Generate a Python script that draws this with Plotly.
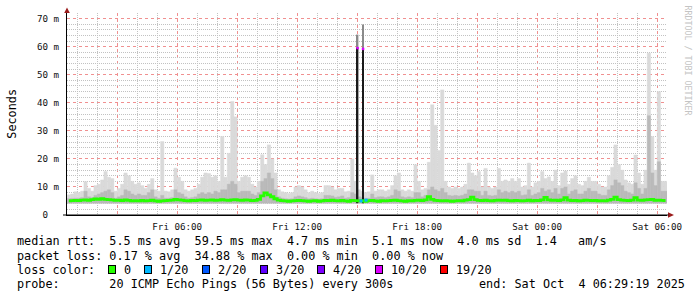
import plotly.graph_objects as go
import pandas as pd

# ---------------- data (values in ms) ----------------
SERIES_START = "2025-10-03 00:35:00"   # centre of the first 10-minute interval
STEP_MINUTES = 10
RANGE_START = "2025-10-03 00:29:19"
RANGE_END = "2025-10-04 06:29:19"

# top of the light smoke (max ping) per 10-minute interval
smoke_max = [
    7.2, 7.5, 8.3, 8.0, 8.5, 11.9, 9.5, 8.5, 10.5, 11.0,
    12.5, 15.5, 13.5, 13.0, 8.5, 9.5, 11.0, 15.0, 14.0, 12.0,
    11.0, 11.5, 10.5, 9.5, 11.0, 13.0, 9.0, 8.5, 26.2, 8.5,
    8.3, 9.0, 16.7, 13.5, 12.0, 9.0, 8.5, 9.0, 9.5, 11.0,
    13.5, 15.0, 14.8, 13.5, 14.0, 12.0, 28.0, 13.5, 22.0, 40.5,
    35.0, 12.0, 13.5, 14.0, 13.5, 11.0, 10.0, 12.0, 21.5, 18.0,
    25.0, 20.0, 15.0, 9.0, 8.3, 8.0, 7.7, 8.0, 10.0, 10.5,
    10.0, 9.0, 8.0, 8.5, 8.0, 7.7, 8.0, 10.5, 10.5, 10.0,
    9.0, 9.5, 9.5, 8.3, 8.5, 20.0, 12.0, 9.0, 8.5, 8.0,
    8.3, 14.3, 8.5, 9.0, 9.0, 8.5, 9.0, 10.5, 14.0, 15.0,
    9.0, 8.5, 9.0, 8.5, 17.9, 12.0, 9.0, 9.5, 18.8, 39.3,
    32.0, 23.0, 44.6, 12.0, 10.0, 9.5, 10.0, 9.5, 10.0, 11.0,
    18.5, 15.0, 14.0, 15.5, 10.0, 16.6, 10.0, 9.5, 10.0, 16.6,
    12.0, 12.5, 12.0, 13.0, 12.0, 13.0, 10.0, 10.5, 18.5, 10.0,
    11.5, 12.0, 15.5, 13.0, 13.6, 12.0, 16.0, 10.5, 15.0, 15.7,
    11.0, 13.0, 14.0, 11.0, 10.5, 12.0, 13.5, 12.0, 12.0, 11.0,
    10.0, 10.0, 14.0, 17.0, 25.0, 18.0, 16.0, 12.5, 11.5, 11.0,
    21.4, 15.0, 11.0, 16.0, 57.7, 28.0, 16.0, 44.0, 12.0, 12.0,
]

# top of the denser (medium grey) smoke
smoke_mid = [
    5.8, 5.9, 6.0, 6.0, 6.2, 8.5, 6.5, 6.2, 7.0, 7.5,
    8.0, 8.5, 9.0, 8.0, 6.0, 6.5, 7.0, 9.0, 8.5, 7.5,
    7.0, 7.5, 7.0, 7.0, 8.0, 9.0, 6.5, 6.0, 7.0, 6.0,
    6.0, 6.2, 9.0, 8.0, 7.5, 6.5, 6.0, 6.2, 6.5, 7.5,
    8.0, 7.5, 8.0, 7.5, 8.5, 8.0, 9.0, 9.0, 11.0, 12.0,
    11.0, 8.0, 8.5, 8.5, 8.5, 7.5, 7.0, 8.0, 12.0, 13.0,
    15.0, 13.0, 9.0, 6.5, 6.0, 5.8, 5.7, 5.8, 6.5, 6.8,
    6.5, 6.2, 5.8, 6.0, 5.8, 5.7, 5.8, 7.0, 7.0, 6.8,
    6.3, 6.5, 6.8, 6.0, 6.2, 8.0, 7.5, 6.5, 6.2, 6.0,
    6.0, 7.5, 6.2, 6.5, 6.5, 6.2, 6.5, 7.0, 9.0, 8.5,
    6.5, 6.2, 6.5, 6.2, 8.0, 8.0, 6.5, 7.0, 9.0, 10.0,
    9.0, 8.5, 9.5, 8.0, 7.0, 6.8, 7.0, 6.8, 7.0, 7.5,
    9.0, 9.0, 8.5, 8.5, 7.0, 8.5, 7.0, 6.8, 7.0, 9.0,
    8.0, 8.5, 8.0, 8.5, 8.0, 8.5, 7.0, 7.2, 9.0, 7.0,
    7.5, 8.0, 9.5, 8.5, 9.0, 8.0, 9.5, 7.5, 9.5, 10.0,
    7.5, 8.5, 9.0, 7.5, 7.5, 8.5, 9.5, 8.5, 8.5, 7.5,
    7.0, 7.0, 9.0, 10.5, 12.5, 11.5, 10.5, 8.5, 8.0, 7.5,
    11.5, 9.5, 7.5, 9.5, 35.4, 15.0, 10.5, 19.0, 8.5, 8.5,
]

# median round-trip time
median_rtt = [
    5.0, 5.1, 5.2, 5.1, 5.3, 5.4, 5.2, 5.5, 5.7, 5.6,
    5.8, 5.6, 5.5, 5.4, 5.2, 5.3, 5.1, 5.4, 5.2, 5.0,
    5.1, 5.0, 5.2, 5.0, 5.1, 5.3, 5.0, 4.9, 5.0, 5.1,
    5.2, 5.3, 5.6, 5.4, 5.3, 5.1, 5.0, 5.2, 5.1, 5.3,
    5.4, 5.2, 5.3, 5.4, 5.2, 5.3, 5.5, 5.3, 5.2, 5.4,
    5.5, 5.3, 5.2, 5.4, 5.3, 5.1, 5.2, 5.6, 6.8, 7.9,
    7.2, 6.5, 5.8, 5.3, 5.1, 5.0, 4.9, 5.0, 5.1, 5.2,
    5.1, 5.0, 4.9, 5.0, 5.1, 4.9, 5.0, 5.2, 5.1, 5.3,
    5.1, 5.0, 5.2, 5.0, 4.9, 5.2, 5.1, 5.0, 5.1, 4.9,
    5.1, 5.2, 5.0, 4.9, 5.1, 5.0, 5.1, 5.2, 5.3, 5.1,
    5.0, 4.9, 5.1, 5.0, 5.2, 5.3, 5.1, 5.4, 6.5, 5.6,
    5.2, 5.1, 5.0, 5.1, 5.0, 4.9, 5.0, 5.1, 5.0, 5.3,
    5.5, 6.4, 5.5, 5.2, 5.1, 5.3, 5.1, 5.0, 5.2, 5.3,
    5.2, 5.3, 5.1, 5.0, 5.2, 5.1, 5.0, 5.1, 5.3, 5.0,
    5.2, 5.1, 5.4, 6.3, 5.4, 5.2, 5.3, 5.1, 5.4, 6.2,
    5.3, 5.1, 5.2, 5.0, 5.1, 5.3, 5.2, 5.1, 5.2, 5.0,
    5.1, 5.0, 5.3, 5.6, 6.4, 5.5, 5.3, 5.2, 5.1, 5.3,
    6.2, 5.3, 5.2, 5.4, 5.5, 5.6, 5.2, 5.3, 5.2, 5.1,
]
SMOKE_FLOOR = 4.2

# two 5-minute samples with heavy loss around 15:00
spike_times = ["2025-10-03 15:01:00", "2025-10-03 15:17:30"]
spike_median = [59.5, 59.2]
spike_max = [64.3, 67.9]
spike_loss = ["10/20", "10/20"]

# samples with light loss
loss_times = ["2025-10-03 15:11:30", "2025-10-03 15:26:30"]
loss_median = [5.0, 5.3]
loss_level = ["1/20", "1/20"]

loss_labels = ["0", "1/20", "2/20", "3/20", "4/20", "10/20", "19/20"]
loss_colors = ["#26ff00", "#00b8ff", "#0059ff", "#5e00ff", "#7e00ff", "#dd00ff", "#ff0000"]

x_tick_vals = ["2025-10-03 03:00", "2025-10-03 06:00", "2025-10-03 09:00", "2025-10-03 12:00",
               "2025-10-03 15:00", "2025-10-03 18:00", "2025-10-03 21:00", "2025-10-04 00:00",
               "2025-10-04 03:00", "2025-10-04 06:00"]
x_tick_text = ["", "Fri 06:00", "", "Fri 12:00", "", "Fri 18:00", "", "Sat 00:00", "", "Sat 06:00"]
y_tick_vals = [0, 10, 20, 30, 40, 50, 60, 70]
y_tick_text = ["0\u00a0\u00a0", "10 m", "20 m", "30 m", "40 m", "50 m", "60 m", "70 m"]

TXT_RTT = "median rtt:  5.5 ms avg  59.5 ms max  4.7 ms min  5.1 ms now  4.0 ms sd  1.4   am/s"
TXT_LOSS = "packet loss: 0.17 % avg  34.88 % max  0.00 % min  0.00 % now"
TXT_COLOR = "loss color:"
TXT_PROBE = "probe:       20 ICMP Echo Pings (56 Bytes) every 300s"
TXT_END = "end: Sat Oct  4 06:29:19 2025"
TXT_MARK = "RRDTOOL / TOBI OETIKER"
Y_TITLE = "Seconds"

# ---------------- figure ----------------
loss_map = dict(zip(loss_labels, loss_colors))
times = pd.date_range(SERIES_START, periods=len(median_rtt), freq=f"{STEP_MINUTES}min")
step_ms = STEP_MINUTES * 60 * 1000

# minor grid positions (hourly / every 2 ms, skipping the major ones)
minor_x = [t for t in pd.date_range("2025-10-03 01:00", "2025-10-04 06:00", freq="1h") if t.hour % 3 != 0]
minor_y = [v for v in range(2, 72, 2) if v % 10 != 0]

W, H, L, T = 697, 297, 67, 13
PW, PH = 600, 202
MONO = "DejaVu Sans Mono"
Y_RANGE = [0, 72]


def px(x):
    return (x - L) / PW


def py(y):
    return (T + PH - y) / PH


fig = go.Figure()
# empty trace that puts the minor-grid overlay axes on the page
fig.add_trace(go.Scatter(x=[], y=[], xaxis="x2", yaxis="y2", hoverinfo="skip"))
fig.add_trace(go.Bar(x=times, y=[v - SMOKE_FLOOR for v in smoke_max], base=SMOKE_FLOOR,
                     width=step_ms, marker=dict(color="#dadada", line=dict(width=0.4, color="#dadada")),
                     hoverinfo="skip"))
fig.add_trace(go.Bar(x=times, y=[v - SMOKE_FLOOR for v in smoke_mid], base=SMOKE_FLOOR,
                     width=step_ms, marker=dict(color="#bababa", line=dict(width=0.4, color="#bababa")),
                     hoverinfo="skip"))
fig.add_trace(go.Bar(x=pd.to_datetime(spike_times), y=[m - s for m, s in zip(spike_max, spike_median)],
                     base=spike_median, width=5 * 60 * 1000, marker=dict(color="#8a8a8a", line=dict(width=0)),
                     hoverinfo="skip"))
fig.add_trace(go.Bar(x=pd.to_datetime(spike_times), y=[m - SMOKE_FLOOR for m in spike_median],
                     base=SMOKE_FLOOR, width=5 * 60 * 1000, marker=dict(color="#1a1a1a", line=dict(width=0)),
                     hoverinfo="skip"))
fig.add_trace(go.Scatter(x=times, y=median_rtt, mode="lines", line=dict(color=loss_map["0"], width=2.8, shape="hvh"),
                         hoverinfo="skip"))
fig.add_trace(go.Scatter(x=pd.to_datetime(spike_times), y=spike_median, mode="markers",
                         marker=dict(symbol="square", size=2.5, color=[loss_map[k] for k in spike_loss], line=dict(width=0)),
                         hoverinfo="skip"))
fig.add_trace(go.Scatter(x=pd.to_datetime(loss_times), y=loss_median, mode="markers",
                         marker=dict(symbol="square", size=3, color=[loss_map[k] for k in loss_level], line=dict(width=0)),
                         hoverinfo="skip"))

MAJOR = "#f09090"
MINOR = "#c2c2c2"
DOTS = "1px,1px"
TICKFONT = dict(family=MONO, size=9.2, color="#111")

fig.update_layout(
    width=W, height=H, margin=dict(l=L, r=W - L - PW, t=T, b=H - T - PH, pad=0),
    paper_bgcolor="white", plot_bgcolor="white", showlegend=False, barmode="overlay",
    font=dict(family=MONO, color="#000000", size=9.2),
    xaxis=dict(type="date", range=[RANGE_START, RANGE_END], tickmode="array",
               tickvals=x_tick_vals, ticktext=x_tick_text, ticks="",
               showgrid=True, gridcolor=MAJOR, griddash="dot", gridwidth=1,
               showline=True, linecolor="black", linewidth=1, zeroline=False,
               tickfont=TICKFONT, ticklabelstandoff=3, fixedrange=True),
    yaxis=dict(range=Y_RANGE, tickmode="array", tickvals=y_tick_vals, ticktext=y_tick_text, ticks="",
               showgrid=True, gridcolor=MAJOR, griddash="dot", gridwidth=1,
               showline=True, linecolor="black", linewidth=1, zeroline=False,
               tickfont=TICKFONT, ticklabelstandoff=5, fixedrange=True),
    xaxis2=dict(type="date", range=[RANGE_START, RANGE_END], overlaying="x", anchor="y2",
                tickmode="array", tickvals=minor_x, showticklabels=False, ticks="",
                showgrid=True, gridcolor=MINOR, griddash=DOTS, gridwidth=1,
                showline=False, zeroline=False, fixedrange=True),
    yaxis2=dict(range=Y_RANGE, overlaying="y", anchor="x2", tickmode="array", tickvals=minor_y,
                showticklabels=False, ticks="", showgrid=True, gridcolor=MINOR, griddash=DOTS,
                gridwidth=1, showline=False, zeroline=False, fixedrange=True),
)

ann = []
LEG_X = 16.4
CH = 7.1
LEG_FONT = dict(family=MONO, size=11.8, color="#000")


def text_ann(s, x, y, **kw):
    d = dict(text=s.replace(" ", "\u00a0"), x=px(x), y=py(y), xref="paper", yref="paper",
             xanchor="left", yanchor="middle", showarrow=False, font=LEG_FONT, borderpad=0)
    d.update(kw)
    return d


ann.append(text_ann(TXT_RTT, LEG_X, 241.5))
ann.append(text_ann(TXT_LOSS, LEG_X, 255.5))
ann.append(text_ann(TXT_COLOR, LEG_X, 269.5))
ann.append(text_ann(TXT_PROBE, LEG_X, 283.5))
ann.append(text_ann(TXT_END, LEG_X + 65 * CH, 283.5))

lab_x = LEG_X + 15 * CH
for lab, col in zip(loss_labels, loss_colors):
    ann.append(dict(text="\u00a0", x=px(lab_x - 10.8), y=py(269.2), xref="paper", yref="paper",
                    xanchor="center", yanchor="middle", showarrow=False, width=5.5, height=6.5,
                    bgcolor=col, bordercolor="black", borderwidth=1, borderpad=0,
                    font=dict(size=4)))
    ann.append(text_ann(lab, lab_x, 269.5))
    lab_x += (len(lab) + 4.12) * CH

ann.append(dict(text=Y_TITLE, x=px(11.7), y=py(114), xref="paper", yref="paper", textangle=-90,
                xanchor="center", yanchor="middle", showarrow=False,
                font=dict(family=MONO, size=11.8, color="#000")))
ann.append(dict(text=TXT_MARK.replace(" ", "\u00a0"), x=px(687.5), y=py(60), xref="paper", yref="paper",
                textangle=90, xanchor="center", yanchor="middle", showarrow=False,
                font=dict(family=MONO, size=8.3, color="#c4c4c4")))
fig.update_layout(annotations=ann)

ARROW = "#9b1c1c"


def ppath(points):
    return "M " + " L ".join(f"{px(a):.5f},{py(b):.5f}" for a, b in points) + " Z"


fig.update_layout(shapes=[
    dict(type="path", xref="paper", yref="paper", path=ppath([(64.2, 13), (69.8, 13), (67, 7.5)]),
         fillcolor=ARROW, line=dict(width=0), layer="above"),
    dict(type="path", xref="paper", yref="paper", path=ppath([(668, 212.2), (668, 217.8), (674, 215)]),
         fillcolor=ARROW, line=dict(width=0), layer="above"),
    dict(type="line", xref="paper", yref="paper", x0=px(63), x1=px(668.5), y0=py(215), y1=py(215),
         line=dict(color="black", width=1), layer="above"),
])

fig.write_html("out.html")
